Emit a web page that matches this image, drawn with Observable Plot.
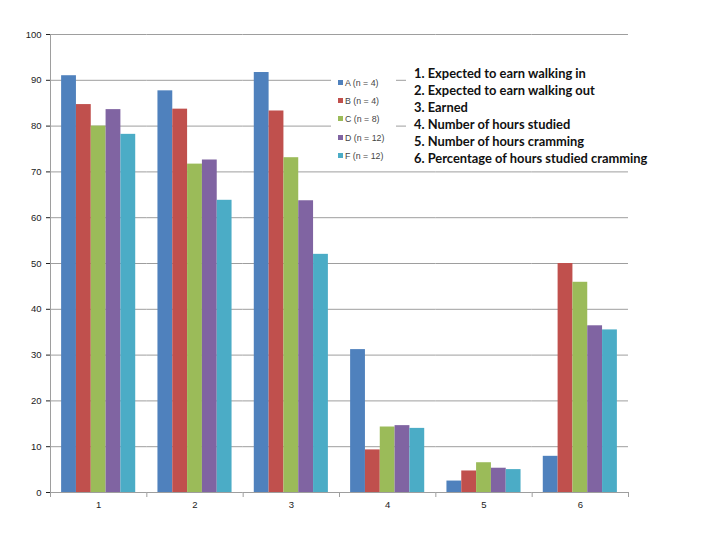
<!DOCTYPE html>
<html>
<head>
<meta charset="utf-8">
<script src="https://cdn.jsdelivr.net/npm/d3@7"></script>
<script src="https://cdn.jsdelivr.net/npm/@observablehq/plot@0.6"></script>
<style>
  html, body { margin: 0; padding: 0; background: #fff; }
  #wrap { position: relative; width: 720px; height: 540px; }
  #legend { position: absolute; left: 331px; top: 72px; width: 65px; height: 92px; background: #fff;
    font-family: "Liberation Sans", Arial, sans-serif; font-size: 8.8px; color: #444; }
  .li { position: absolute; left: 7px; height: 10px; line-height: 10px; white-space: nowrap; }
  .sw { display: inline-block; width: 5px; height: 5px; margin-right: 2px; vertical-align: 1px; }
  #notes { position: absolute; left: 406px; top: 65px; width: 262px; height: 104px; background: #fff;
    font-family: Lato, "Open Sans", sans-serif; font-weight: bold; font-size: 12.9px; color: #111;
    line-height: 16.9px; padding-left: 8px; box-sizing: border-box; }
  #notes div { white-space: nowrap; }
</style>
</head>
<body>
<div id="wrap">
  <div id="chart"></div>
  <div id="legend"></div>
  <div id="notes"></div>
</div>
<script>
const groups = ["1", "2", "3", "4", "5", "6"];
const seriesNames = ["A (n = 4)", "B (n = 4)", "C (n = 8)", "D (n = 12)", "F (n = 12)"];
const valuesA = [91.0, 87.7, 91.7, 31.2, 2.5, 7.9];
const valuesB = [84.7, 83.7, 83.3, 9.3, 4.7, 50.0];
const valuesC = [80.0, 71.7, 73.1, 14.3, 6.5, 45.9];
const valuesD = [83.6, 72.6, 63.7, 14.6, 5.3, 36.4];
const valuesF = [78.2, 63.8, 52.0, 14.0, 5.0, 35.5];
const seriesColors = ["#4F81BD", "#C0504D", "#9BBB59", "#8064A2", "#4BACC6"];
const yTicks = [0, 10, 20, 30, 40, 50, 60, 70, 80, 90, 100];
const notes = [
  "1. Expected to earn walking in",
  "2. Expected to earn walking out",
  "3. Earned",
  "4. Number of hours studied",
  "5. Number of hours cramming",
  "6. Percentage of hours studied cramming"
];

const allValues = [valuesA, valuesB, valuesC, valuesD, valuesF];
const rows = [];
groups.forEach((g, gi) => {
  seriesNames.forEach((s, si) => rows.push({group: g, series: s, value: allValues[si][gi]}));
});

const chart = Plot.plot({
  width: 720,
  height: 540,
  marginLeft: 50,
  marginRight: 92,
  marginTop: 34,
  marginBottom: 48,
  style: {fontFamily: "'Liberation Sans', Arial, sans-serif", fontSize: "9.5px", color: "#222", background: "#fff"},
  fx: {domain: groups, padding: 0, round: false, axis: "bottom", tickSize: 0, tickPadding: 9, label: null},
  x: {domain: seriesNames, paddingInner: 0, paddingOuter: 0.75, round: false, axis: null},
  y: {domain: [0, 100], ticks: yTicks, tickSize: 4, tickPadding: 5, label: null},
  color: {domain: seriesNames, range: seriesColors},
  marks: [
    Plot.ruleY(yTicks.filter(d => d > 0), {stroke: "#9e9e9e", strokeWidth: 1}),
    Plot.barY(rows, {fx: "group", x: "series", y: "value", fill: "series"}),
    Plot.ruleY([0], {stroke: "#9e9e9e", strokeWidth: 1})
  ]
});
document.getElementById("chart").appendChild(chart);

// axis line and group-boundary tick marks from the library's scales
const svg = d3.select(chart.tagName.toLowerCase() === "svg" ? chart : chart.querySelector("svg"));
const sy = chart.scale("y");
const sfx = chart.scale("fx");
const y0 = sy.apply(0), y100 = sy.apply(100);
const bounds = groups.map(g => sfx.apply(g));
bounds.push(sfx.apply(groups[groups.length - 1]) + sfx.bandwidth);
const g = svg.append("g").attr("stroke", "#9e9e9e").attr("stroke-width", 1);
g.append("line").attr("x1", bounds[0] + 0.5).attr("x2", bounds[0] + 0.5).attr("y1", y100).attr("y2", y0);
bounds.forEach(b => g.append("line").attr("x1", b + 0.5).attr("x2", b + 0.5).attr("y1", y0).attr("y2", y0 + 5));

// legend
const legend = document.getElementById("legend");
seriesNames.forEach((s, i) => {
  const d = document.createElement("div");
  d.className = "li";
  d.style.top = (6 + i * 18.2) + "px";
  d.innerHTML = `<span class="sw" style="background:${seriesColors[i]}"></span>${s}`;
  legend.appendChild(d);
});

// notes
const notesEl = document.getElementById("notes");
notes.forEach(t => {
  const d = document.createElement("div");
  d.textContent = t;
  notesEl.appendChild(d);
});
</script>
</body>
</html>
